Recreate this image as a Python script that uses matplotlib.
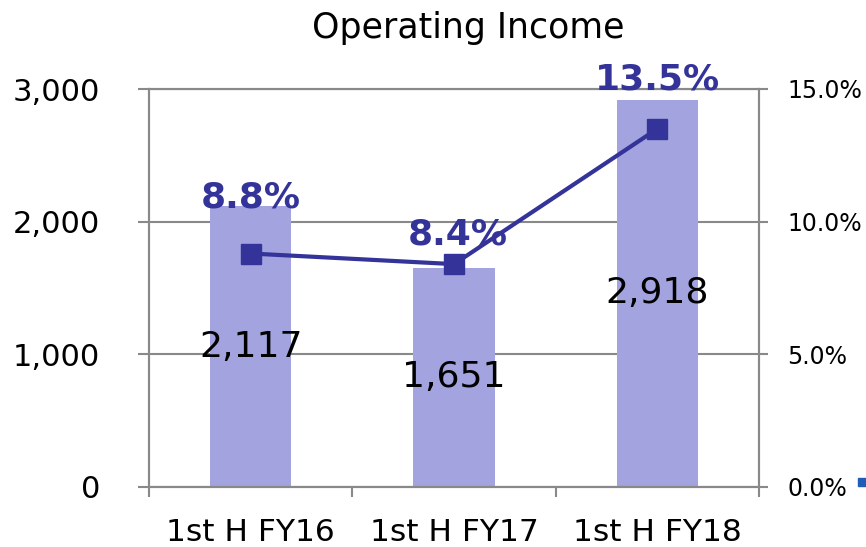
import matplotlib.pyplot as plt
from matplotlib.patches import Rectangle
from matplotlib.ticker import FuncFormatter

categories = ['1st H FY16', '1st H FY17', '1st H FY18']
income = [2117, 1651, 2918]
margin = [8.8, 8.4, 13.5]

bar_color = '#A3A3DF'
line_color = '#333399'
frame_color = '#898989'

fig = plt.figure(figsize=(8.66, 5.47), dpi=100)
ax = fig.add_axes([149/866, 1-487/547, 610/866, 398/547])
x = list(range(len(categories)))

ax.bar(x, income, width=0.4, color=bar_color, zorder=2)
ax.set_xlim(-0.5, 2.5)
ax.set_ylim(0, 3000)
ax.set_yticks([0, 1000, 2000, 3000])
ax.yaxis.set_major_formatter(FuncFormatter(lambda v, p: f'{int(v):,}'))
ax.tick_params(axis='y', labelsize=22, direction='out', length=8, width=1.5,
               color=frame_color, pad=27)
ax.grid(axis='y', color=frame_color, lw=1.5, zorder=0)

# category boundaries get the ticks, names sit at centers
ax.set_xticks([-0.5, 0.5, 1.5, 2.5])
ax.set_xticklabels([])
ax.set_xticks(x, minor=True)
ax.set_xticklabels(categories, minor=True, fontsize=22.5)
ax.tick_params(axis='x', which='major', direction='out', length=7, width=1.5, color=frame_color)
ax.tick_params(axis='x', which='minor', length=0, pad=22)
for s in ax.spines.values():
    s.set_color(frame_color)
    s.set_linewidth(1.5)

for xi, v in zip(x, income):
    ax.text(xi, v / 2, f'{v:,}', ha='center', va='center', fontsize=26, zorder=3)

ax2 = ax.twinx()
ax2.plot(x, margin, color=line_color, lw=3, marker='s', markersize=14, zorder=4)
ax2.set_ylim(0, 15)
ax2.set_yticks([0, 5, 10, 15])
ax2.yaxis.set_major_formatter(FuncFormatter(lambda v, p: f'{v:.1f}%'))
ax2.tick_params(axis='y', labelsize=17, direction='out', length=6.5, width=1.5,
                color=frame_color, pad=14)
for s in ax2.spines.values():
    s.set_color(frame_color)
    s.set_linewidth(1.5)

label_dx = [0, 0.02, 0]
label_dy = [2.1, 1.1, 1.85]
for xi, m, dx, dy in zip(x, margin, label_dx, label_dy):
    ax2.text(xi + dx, m + dy, f'{m}%', ha='center', va='center', fontsize=26,
             fontweight='bold', color=line_color, zorder=5)

fig.text(468/866, 1-28/547, 'Operating Income', ha='center', va='center', fontsize=25)
fig.patches.append(Rectangle((858/866, 1-486/547), 8/866, 8/547, color='#1F5DB8',
                             transform=fig.transFigure, figure=fig))

fig.savefig('out.png', dpi=100)
